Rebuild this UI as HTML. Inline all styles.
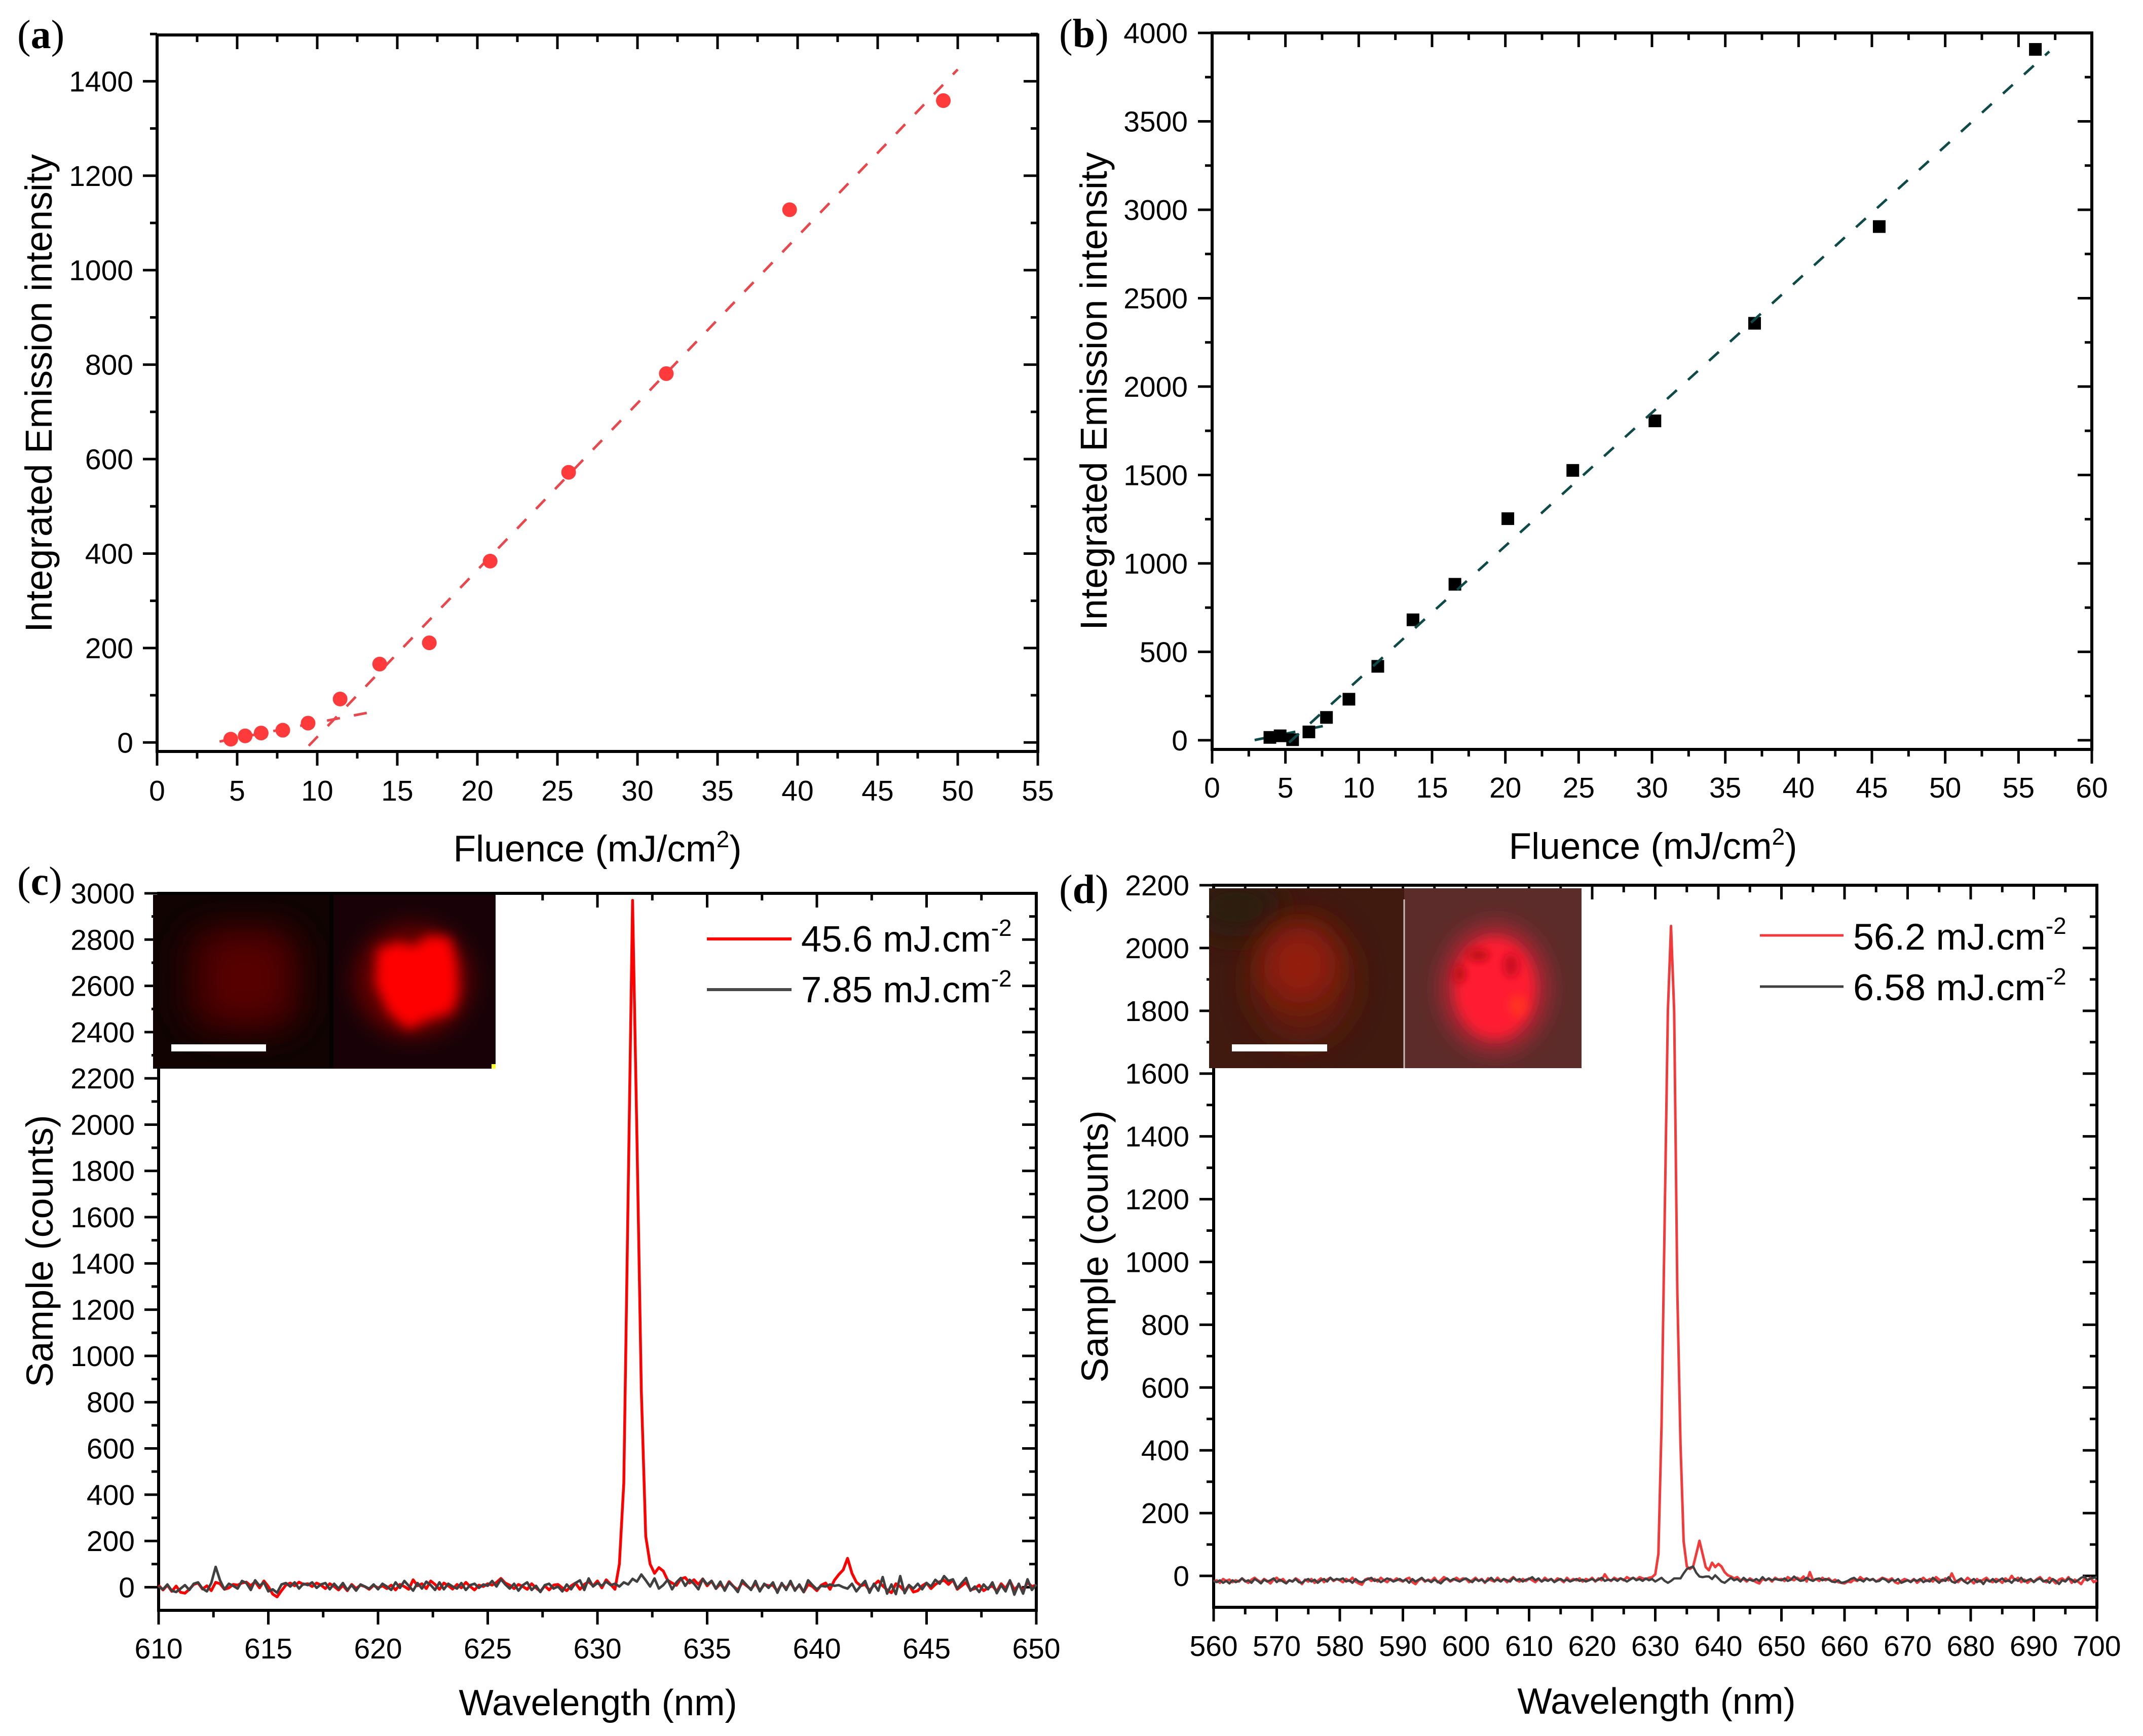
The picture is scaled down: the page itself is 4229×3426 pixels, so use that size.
<!DOCTYPE html>
<html lang="en">
<head>
<meta charset="utf-8">
<title>Integrated emission and spectra panels</title>
<style>
html,body{margin:0;padding:0;background:#fff;}
svg{display:block;}
text{font-family:"Liberation Sans",Arial,sans-serif;fill:#000;}
.tick{font-size:57px;}
.title{font-size:73px;}
.ytitle{font-size:73.8px;}
.wtitle{font-size:72.5px;}
.legend{font-size:72.5px;}
.sup{font-size:46px;}
.plabel{font-family:"Liberation Serif","Times New Roman",serif;font-size:80px;}
</style>
</head>
<body>
<svg id="figure" xmlns="http://www.w3.org/2000/svg" width="4229" height="3426" viewBox="0 0 4229 3426">
<defs>
<filter id="b12" x="-50%" y="-50%" width="200%" height="200%"><feGaussianBlur stdDeviation="12"/></filter>
<filter id="b8" x="-50%" y="-50%" width="200%" height="200%"><feGaussianBlur stdDeviation="8"/></filter>
<filter id="b18" x="-50%" y="-50%" width="200%" height="200%"><feGaussianBlur stdDeviation="18"/></filter>
<filter id="b30" x="-50%" y="-50%" width="200%" height="200%"><feGaussianBlur stdDeviation="30"/></filter>
<clipPath id="clipC1"><rect x="302" y="1766" width="353" height="343"/></clipPath>
<clipPath id="clipC2"><rect x="655" y="1766" width="323" height="343"/></clipPath>
<clipPath id="clipD1"><rect x="2386" y="1753" width="385" height="355"/></clipPath>
<clipPath id="clipD2"><rect x="2771" y="1753" width="350" height="355"/></clipPath>
</defs>

<g id="plots"></g>

<!-- static labels -->
<g>
<text class="plabel" x="34" y="95">(<tspan font-weight="bold">a</tspan>)</text>
<text class="plabel" x="2090" y="93">(<tspan font-weight="bold">b</tspan>)</text>
<text class="plabel" x="34" y="1766">(<tspan font-weight="bold">c</tspan>)</text>
<text class="plabel" x="2090" y="1782">(<tspan font-weight="bold">d</tspan>)</text>
</g>

<g>
<text class="ytitle" text-anchor="middle" transform="translate(102 776) rotate(-90)">Integrated Emission intensity</text>
<text class="title" text-anchor="middle" x="1179" y="1700">Fluence (mJ/cm<tspan class="sup" dy="-28">2</tspan><tspan dy="28">)</tspan></text>
<text class="ytitle" text-anchor="middle" transform="translate(2184 772) rotate(-90)">Integrated Emission intensity</text>
<text class="title" text-anchor="middle" x="3262" y="1695">Fluence (mJ/cm<tspan class="sup" dy="-28">2</tspan><tspan dy="28">)</tspan></text>
<text class="ytitle" text-anchor="middle" transform="translate(104 2469) rotate(-90)">Sample (counts)</text>
<text class="wtitle" text-anchor="middle" x="1180" y="3385">Wavelength (nm)</text>
<text class="ytitle" text-anchor="middle" transform="translate(2186 2460) rotate(-90)">Sample (counts)</text>
<text class="wtitle" text-anchor="middle" x="3269" y="3382">Wavelength (nm)</text>
</g>

<!-- inset (c) -->
<g>
<g clip-path="url(#clipC1)">
<rect x="302" y="1766" width="353" height="343" fill="#100302"/>
<rect x="355" y="1820" width="250" height="225" rx="60" fill="#2a0200" filter="url(#b30)"/>
<rect x="400" y="1845" width="170" height="170" rx="50" fill="#570000" filter="url(#b30)"/>
<rect x="338" y="2061" width="187" height="14" fill="#fff"/>
</g>
<g clip-path="url(#clipC2)">
<rect x="655" y="1766" width="323" height="343" fill="#190207"/>
<ellipse cx="815" cy="1935" rx="118" ry="115" fill="#5a0000" filter="url(#b18)"/>
<polygon points="745,1872 790,1858 815,1868 845,1846 888,1850 902,1900 905,1960 892,1998 842,2014 805,2032 766,1998 740,1940" fill="#ff0000" filter="url(#b12)"/>
<rect x="970" y="2100" width="8" height="9" fill="#ffff30"/>
</g>
<rect x="650" y="1766" width="8" height="343" fill="#050203"/>
</g>

<!-- inset (d) -->
<g>
<g clip-path="url(#clipD1)">
<rect x="2386" y="1753" width="385" height="355" fill="#40190f"/>
<ellipse cx="2440" cy="1790" rx="90" ry="60" fill="#2b1a10" filter="url(#b30)"/>
<ellipse cx="2570" cy="1935" rx="105" ry="125" fill="#601a10" filter="url(#b30)"/>
<ellipse cx="2565" cy="1905" rx="72" ry="78" fill="#941a10" filter="url(#b30)"/>
<rect x="2431" y="2061" width="188" height="14" fill="#fff"/>
</g>
<g clip-path="url(#clipD2)">
<rect x="2771" y="1753" width="350" height="355" fill="#5c2c2a"/>
<ellipse cx="2950" cy="1950" rx="112" ry="132" fill="#a02630" filter="url(#b18)"/>
<ellipse cx="2950" cy="1950" rx="80" ry="100" fill="#ff1a30" filter="url(#b12)"/>
<ellipse cx="2917" cy="1885" rx="22" ry="12" fill="#c00a18" filter="url(#b8)"/>
<ellipse cx="2880" cy="1922" rx="12" ry="18" fill="#c00a18" filter="url(#b8)"/>
<ellipse cx="2982" cy="1905" rx="16" ry="24" fill="#cc0a20" filter="url(#b8)"/>
<ellipse cx="2995" cy="1985" rx="18" ry="22" fill="#ff3020" filter="url(#b8)"/>
</g>
<rect x="2769.5" y="1775" width="3" height="333" fill="#c9bdbb"/>
</g>

<!-- legends -->
<g>
<line x1="1395" y1="1853" x2="1562" y2="1853" stroke="#ff0000" stroke-width="6"/>
<text class="legend" x="1581" y="1878">45.6 mJ.cm<tspan class="sup" dy="-31">-2</tspan></text>
<line x1="1395" y1="1953" x2="1562" y2="1953" stroke="#484848" stroke-width="6"/>
<text class="legend" x="1581" y="1978">7.85 mJ.cm<tspan class="sup" dy="-31">-2</tspan></text>
</g>
<g>
<line x1="3473" y1="1846" x2="3638" y2="1846" stroke="#f23a3a" stroke-width="5"/>
<text class="legend" x="3657" y="1874" style="font-size:73.5px">56.2 mJ.cm<tspan class="sup" dy="-31">-2</tspan></text>
<line x1="3473" y1="1947" x2="3638" y2="1947" stroke="#404040" stroke-width="5"/>
<text class="legend" x="3657" y="1974" style="font-size:73.5px">6.58 mJ.cm<tspan class="sup" dy="-31">-2</tspan></text>
</g>
</svg>

<script>
// ---------- panel (a) data ----------
const aFluence = [4.6,5.5,6.5,7.85,9.43,11.43,13.9,17,20.8,25.7,31.8,39.5,49.1];
const aIntensity = [7,14,20,26,41,92,166,211,384,572,781,1128,1359];
const aFitLowX = [3.9,13.3];
const aFitLowY = [2,64];
const aFitHighX = [9.47,50];
const aFitHighY = [-7,1425];
const aXLabels = [0,5,10,15,20,25,30,35,40,45,50,55];
const aYLabels = [0,200,400,600,800,1000,1200,1400];

// ---------- panel (b) data ----------
const bFluence = [3.94,4.64,5.49,6.6,7.8,9.33,11.3,13.7,16.56,20.17,24.6,30.2,37.0,45.5,56.15];
const bIntensity = [16,25,3,47,129,232,418,681,882,1253,1526,1806,2358,2905,3907];
const bFitLowX = [2.9,7.55];
const bFitLowY = [1,80];
const bFitHighX = [5.25,57.1];
const bFitHighY = [-13,3895];
const bXLabels = [0,5,10,15,20,25,30,35,40,45,50,55,60];
const bYLabels = [0,500,1000,1500,2000,2500,3000,3500,4000];

// ---------- panel (c) data: counts sampled from 610 nm every 0.2 nm ----------
const cStartNm = 610;
const cStepNm = 0.2;
const cHigh = [
8,-12,9,-18,5,-22,-26,-9,12,18,-8,6,-15,21,15,-9,-3,12,9,18,
22,6,24,-3,27,3,-30,-42,-15,9,18,6,22,12,15,3,18,9,-6,15,
3,-12,8,-15,12,-6,9,3,-9,8,-3,6,-6,9,-12,12,3,-9,32,6,
15,-6,27,12,-9,18,6,-8,12,-3,21,3,-12,9,3,15,9,21,38,18,
9,-6,12,3,-9,15,-3,-18,6,-12,9,12,-3,-15,6,18,-9,12,24,6,
27,-3,32,12,-9,100,450,1700,2970,1950,850,220,100,60,85,70,30,18,8,36,
42,18,32,12,36,6,27,-6,15,-9,24,3,-12,21,6,-9,18,-15,12,6,
9,-18,15,-6,21,-12,9,-21,12,3,-15,9,18,-9,30,55,75,125,60,22,
6,12,-15,9,27,6,-12,-24,15,3,-18,9,-21,-15,6,18,-6,12,24,30,
12,32,-9,6,21,-12,-6,9,-15,-3,6,-18,15,-6,27,-12,9,-15,21,3,
9];
const cLow = [
3,-9,12,-15,-21,-6,9,-12,15,21,-6,-18,18,88,30,-9,15,6,-6,27,
18,-12,30,6,21,-18,-9,-24,12,18,3,21,-6,15,9,21,-3,12,18,-9,
15,-6,18,-12,9,-15,12,3,-6,12,-9,15,3,-12,21,-3,27,6,-15,18,
-6,24,9,-12,21,-9,15,3,-6,18,-12,9,15,-3,12,6,27,3,34,12,
-6,15,-15,9,21,-12,6,-21,9,15,-6,3,-18,12,-9,18,30,-12,38,3,
18,6,24,9,15,3,21,12,36,24,55,30,3,38,-6,9,32,-9,21,40,
6,32,15,-9,36,12,27,-6,24,-15,21,3,-21,30,9,-12,27,-18,15,-3,
21,-24,18,-12,27,-15,12,-21,30,9,-9,6,3,12,6,9,0,-6,15,-18,
6,27,-24,15,-15,44,-28,12,-30,48,-26,9,-6,15,-9,18,3,32,15,48,
27,34,-6,18,40,-15,3,-21,12,-9,21,-26,9,-18,30,-32,15,-28,34,-12,
12];
const cXLabels = [610,615,620,625,630,635,640,645,650];
const cYLabels = [0,200,400,600,800,1000,1200,1400,1600,1800,2000,2200,2400,2600,2800,3000];

// ---------- panel (d) data: counts sampled from 560 nm every 0.5 nm ----------
const dStartNm = 560;
const dStepNm = 0.5;
const dHigh = [
-18,-14,-22,-10,-16,-12,-20,-14,-18,-8,-16,-22,-12,-6,-14,-20,-10,-16,-24,-12,
-6,-16,-10,-22,-14,-18,-8,-14,-26,-12,-18,-10,-22,-16,-8,-20,-12,-6,-16,-10,
-14,-20,-10,-16,-6,-18,-24,-28,-12,-8,-16,-10,-18,-6,-14,-20,-10,-16,-8,-14,
-18,-10,-6,-20,-26,-14,-8,-18,-12,-16,-6,-20,-14,-4,-10,-18,-12,-6,-14,-8,
-10,-20,-14,-6,-16,-10,-22,-8,-14,-18,-6,-16,-10,-20,-12,-4,-14,-18,-10,-16,
-8,-14,-20,-10,-18,-6,-14,-10,-18,-8,-12,-20,-6,-16,-10,-14,-8,-18,-10,-14,
-6,-18,-8,-14,5,-10,-16,-6,-12,-8,-14,-4,-10,-6,-12,-4,-8,-10,-6,-4,
5,70,480,1150,1800,2070,1800,900,420,110,30,22,30,70,112,70,28,18,42,28,
38,30,12,2,-2,-8,-4,-14,-10,-18,-8,-14,-20,-24,-10,-14,-8,-18,-6,-12,
-10,-16,-4,-10,-14,-6,-12,-2,-18,12,-14,-10,-16,-6,-14,-8,-18,-12,-20,-22,
-24,-18,-20,-12,-16,-4,-12,-8,-14,-10,-18,-12,-6,-10,-14,-8,-20,-24,-16,-10,
-14,-18,-10,-22,-14,-6,-16,-10,-18,-4,-12,-16,-8,-14,8,-14,-20,-10,-18,-6,
-14,-24,-10,-18,-12,-6,-16,-20,-10,-14,-22,-8,-16,0,-14,-6,-20,-12,-22,-14,
-18,-10,-4,-16,-20,-6,-14,-24,-12,-8,-16,-4,-22,-12,-18,-26,-10,-14,-6,-20,
-14];
const dLow = [
-16,-20,-14,-22,-16,-24,-14,-20,-16,-8,-18,-14,-22,-10,-16,-24,-12,-18,-14,-8,
-20,-12,-18,-24,-14,-18,-10,-20,-22,-14,-10,-18,-12,-22,-14,-10,-18,-6,-14,-10,
-12,-8,-18,-14,-22,-10,-18,-20,-14,-10,-6,-16,-12,-20,-14,-8,-12,-18,-14,-10,
-16,-12,-22,-10,-18,-12,-6,-16,-14,-20,-12,-18,-24,-14,-8,-16,-10,-14,-18,-12,
-8,-14,-20,-10,-16,-12,-20,-14,-6,-16,-12,-18,-10,-14,-18,-6,-14,-10,-18,-12,
-10,-4,-14,-8,-18,-12,-16,-10,-20,-14,-10,-16,-12,-18,-14,-10,-16,-12,-18,-14,
-10,-16,-12,-6,-16,-12,-14,-10,-16,-8,-12,-18,-12,-6,-14,-10,-16,-8,-14,-10,
-18,-12,-6,-16,-22,-16,-8,-8,-8,8,22,26,30,10,-2,-4,-2,-2,-10,2,
-8,-18,-22,-14,-6,-14,-10,-18,-6,-14,-12,-16,-10,-16,-4,-14,-8,-14,-10,-12,
-14,-8,-16,-12,-2,-10,-16,-14,-6,-12,-16,-10,-8,-14,-10,-12,-18,-20,-14,-22,
-20,-16,-10,-6,-14,-12,-18,-8,-14,-10,-18,-16,-8,-12,-20,-12,-16,-10,-22,-18,
-14,-20,-12,-16,-10,-20,-14,-18,-6,-14,-22,-12,-16,-4,-18,-22,-14,-8,-18,-24,
-16,-10,-20,-14,-26,-12,-18,-10,-20,-14,-8,-18,-14,-22,-10,-16,-6,-18,-14,-10,
-20,-12,-8,-18,-14,-22,-10,-16,-26,-14,-18,-8,-12,-20,-14,-6,-2,-14,-8,-6,
-4];
const dXLabels = [560,570,580,590,600,610,620,630,640,650,660,670,680,690,700];
const dYLabels = [0,200,400,600,800,1000,1200,1400,1600,1800,2000,2200];

// ---------- drawing ----------
const NS = 'http://www.w3.org/2000/svg';
const layer = document.getElementById('plots');

function mk(tag, parent, attrs, name) {
  const el = document.createElementNS(NS, tag);
  for (const k in attrs) el.setAttribute(k, attrs[k]);
  
  
  parent.appendChild(el);
  return el;
}

function drawAxes(id, frame, xDom, yDom, xLabels, yLabels, xMinor, yMinor, labelY, labelX) {
  const g = mk('g', layer, {}, 'panel-' + id);
  const sx = v => frame.left + (v - xDom[0]) / (xDom[1] - xDom[0]) * (frame.right - frame.left);
  const sy = v => frame.bottom - (v - yDom[0]) / (yDom[1] - yDom[0]) * (frame.bottom - frame.top);
  const tickStyle = {stroke:'#000','stroke-width':5};
  const major = 28, minor = 14;
  function tick(x1,y1,x2,y2,name){ mk('line', g, Object.assign({x1:x1,y1:y1,x2:x2,y2:y2}, tickStyle), name); }
  for (const v of xMinor) {
    const x = sx(v);
    tick(x, frame.bottom, x, frame.bottom + minor, 'x-minor-tick-' + id);
    tick(x, frame.top, x, frame.top + minor, 'x-minor-tick-top-' + id);
  }
  for (const v of yMinor) {
    const y = sy(v);
    tick(frame.left, y, frame.left - minor, y, 'y-minor-tick-' + id);
    tick(frame.right, y, frame.right - minor, y, 'y-minor-tick-right-' + id);
  }
  for (const v of xLabels) {
    const x = sx(v);
    tick(x, frame.bottom, x, frame.bottom + major, 'x-major-tick-' + id);
    tick(x, frame.top, x, frame.top + major, 'x-major-tick-top-' + id);
    const t = mk('text', g, {x:x, y:labelY, 'text-anchor':'middle', class:'tick'}, 'x-tick-label-' + id);
    t.textContent = v;
  }
  for (const v of yLabels) {
    const y = sy(v);
    tick(frame.left, y, frame.left - major, y, 'y-major-tick-' + id);
    tick(frame.right, y, frame.right - major, y, 'y-major-tick-right-' + id);
    const t = mk('text', g, {x:labelX, y:y + 20, 'text-anchor':'end', class:'tick'}, 'y-tick-label-' + id);
    t.textContent = v;
  }
  mk('rect', g, {x:frame.left, y:frame.top, width:frame.right-frame.left, height:frame.bottom-frame.top, fill:'none', stroke:'#000', 'stroke-width':6}, 'plot-frame-' + id);
  return {g, sx, sy};
}

function drawSpectrum(ax, startNm, stepNm, values, color, width, name) {
  const pts = values.map((v,i) => ax.sx(startNm + i * stepNm).toFixed(1) + ',' + ax.sy(v).toFixed(1)).join(' ');
  mk('polyline', ax.g, {points:pts, fill:'none', stroke:color, 'stroke-width':width, 'stroke-linejoin':'round'}, name);
}

function drawFit(ax, xs, ys, color, dash, name) {
  mk('line', ax.g, {x1:ax.sx(xs[0]), y1:ax.sy(ys[0]), x2:ax.sx(xs[1]), y2:ax.sy(ys[1]), stroke:color, 'stroke-width':5, 'stroke-dasharray':dash}, name);
}

function steps(from, to, step) {
  const out = [];
  for (let v = from; v <= to + 1e-9; v += step) out.push(v);
  return out;
}

// panel a
const axA = drawAxes('a', {left:310,right:2048,top:69,bottom:1483}, [0,55], [-19,1498], aXLabels, aYLabels, steps(2.5,52.5,5), steps(100,1300,200).concat([1500]), 1580, 263);
drawFit(axA, aFitLowX, aFitLowY, '#e9474c', '26 28', 'fit-line-low-a');
drawFit(axA, aFitHighX, aFitHighY, '#e9474c', '26 28', 'fit-line-high-a');
aFluence.forEach((x,i) => {
  mk('circle', axA.g, {cx:axA.sx(x), cy:axA.sy(aIntensity[i]), r:14.5, fill:'#ff3a3a'}, 'data-point-a');
});

// panel b
const axB = drawAxes('b', {left:2392,right:4128,top:65,bottom:1479}, [0,60], [-52,4000], bXLabels, bYLabels, steps(2.5,57.5,5), steps(250,3750,500), 1574, 2344);
drawFit(axB, bFitLowX, bFitLowY, '#0d4a48', '26 30', 'fit-line-low-b');
bFluence.forEach((x,i) => {
  mk('rect', axB.g, {x:axB.sx(x)-12.5, y:axB.sy(bIntensity[i])-12.5, width:25, height:25, fill:'#000'}, 'data-point-b');
});
drawFit(axB, bFitHighX, bFitHighY, '#0d4a48', '26 30', 'fit-line-high-b');

// panel c
const axC = drawAxes('c', {left:313,right:2045,top:1763,bottom:3178}, [610,650], [-100,3000], cXLabels, cYLabels, steps(612.5,647.5,5), steps(100,2900,200), 3273, 266);
drawSpectrum(axC, cStartNm, cStepNm, cHigh, '#ff0000', 5.5, 'spectrum-high-fluence-c');
drawSpectrum(axC, cStartNm, cStepNm, cLow, '#404040', 5, 'spectrum-low-fluence-c');

// panel d
const axD = drawAxes('d', {left:2395,right:4138,top:1747,bottom:3172}, [560,700], [-100,2200], dXLabels, dYLabels, steps(565,695,10), steps(100,2100,200), 3268, 2347);
drawSpectrum(axD, dStartNm, dStepNm, dHigh, '#f23a3a', 5, 'spectrum-high-fluence-d');
drawSpectrum(axD, dStartNm, dStepNm, dLow, '#404040', 4.5, 'spectrum-low-fluence-d');
</script>
</body>
</html>
